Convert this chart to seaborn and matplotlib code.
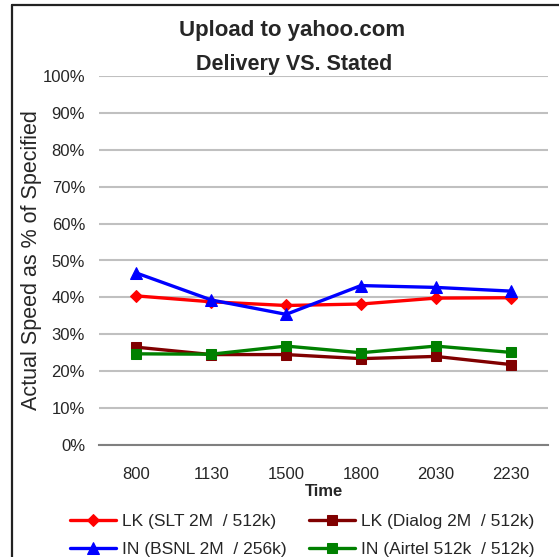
import pandas as pd
import matplotlib
matplotlib.use("Agg")
import matplotlib.pyplot as plt
from matplotlib.lines import Line2D
from matplotlib.ticker import PercentFormatter
import seaborn as sns

# data
times = ["800", "1130", "1500", "1800", "2030", "2230"]
slt = [40.4, 38.8, 37.8, 38.2, 39.8, 39.9]
dialog = [26.5, 24.5, 24.5, 23.4, 24.0, 21.8]
bsnl = [46.6, 39.3, 35.4, 43.2, 42.7, 41.7]
airtel = [24.7, 24.6, 26.8, 25.0, 26.8, 25.1]

labels = ["LK (SLT 2M  / 512k)", "LK (Dialog 2M  / 512k)",
          "IN (BSNL 2M  / 256k)", "IN (Airtel 512k  / 512k)"]
colors = ["#FF0000", "#800000", "#0000FF", "#008000"]
markers = ["D", "s", "^", "s"]
msizes = [6, 7, 9, 7]

sns.set_style("white")
plt.rcParams["font.family"] = ["Liberation Sans", "DejaVu Sans"]

df = pd.DataFrame({
    "pos": list(range(len(times))) * 4,
    "value": slt + dialog + bsnl + airtel,
    "series": [l for l in labels for _ in times],
})

# a hair over 559x557 so the canvas does not round down a pixel
fig = plt.figure(figsize=(5.5905, 5.5705), dpi=100)
ax = fig.add_axes([99 / 559, 1 - 445 / 557, 449 / 559, 369 / 557])

handles = {}
for lab, col, mk, ms in zip(labels, colors, markers, msizes):
    sub = df[df["series"] == lab]
    sns.lineplot(data=sub, x="pos", y="value", ax=ax, color=col, marker=mk,
                 markersize=ms, markeredgecolor=col, linewidth=2.4,
                 label=lab, legend=False, clip_on=False)
    handles[lab] = ax.lines[-1]

ax.set_xlim(-0.5, len(times) - 0.5)
ax.set_ylim(0, 100)
ax.set_yticks(range(0, 101, 10))
ax.yaxis.set_major_formatter(PercentFormatter(decimals=0))
ax.set_xticks(range(len(times)))
ax.set_xticklabels(times)
ax.grid(axis="y", color="#C0C0C0", linewidth=1.5)
ax.set_axisbelow(True)
for s in ["top", "right", "left"]:
    ax.spines[s].set_visible(False)
ax.spines["bottom"].set_color("#808080")
ax.spines["bottom"].set_linewidth(1.5)
ax.tick_params(axis="both", length=0, labelsize=12)
ax.tick_params(axis="y", pad=10)
ax.tick_params(axis="x", pad=15.5)

ax.set_xlabel("Time", fontsize=12, fontweight="bold", labelpad=2)
ax.set_ylabel("Actual Speed as % of Specified", fontsize=15.5, labelpad=0)

fig.text(292 / 559, 1 - 30 / 557, "Upload to yahoo.com", ha="center",
         va="center", fontsize=16, fontweight="bold")
fig.text(294 / 559, 1 - 64 / 557, "Delivery VS. Stated", ha="center",
         va="center", fontsize=15.5, fontweight="bold")

order = [labels[0], labels[2], labels[1], labels[3]]
fig.legend([handles[l] for l in order], order, ncol=2, frameon=False,
           loc="upper left", bbox_to_anchor=(70 / 559, 1 - 514 / 557),
           fontsize=12.5, handlelength=2.65, handletextpad=0.35,
           columnspacing=1.3, labelspacing=0.72, borderpad=0,
           borderaxespad=0)

# outer frame, only left and top edges show in the crop
fig.add_artist(Line2D([12 / 559, 12 / 559], [0, 1 - 5 / 557],
                      transform=fig.transFigure, color="#222222", lw=1.6))
fig.add_artist(Line2D([12 / 559, 1], [1 - 5 / 557, 1 - 5 / 557],
                      transform=fig.transFigure, color="#222222", lw=1.6))

fig.savefig("out.png", dpi=100)
